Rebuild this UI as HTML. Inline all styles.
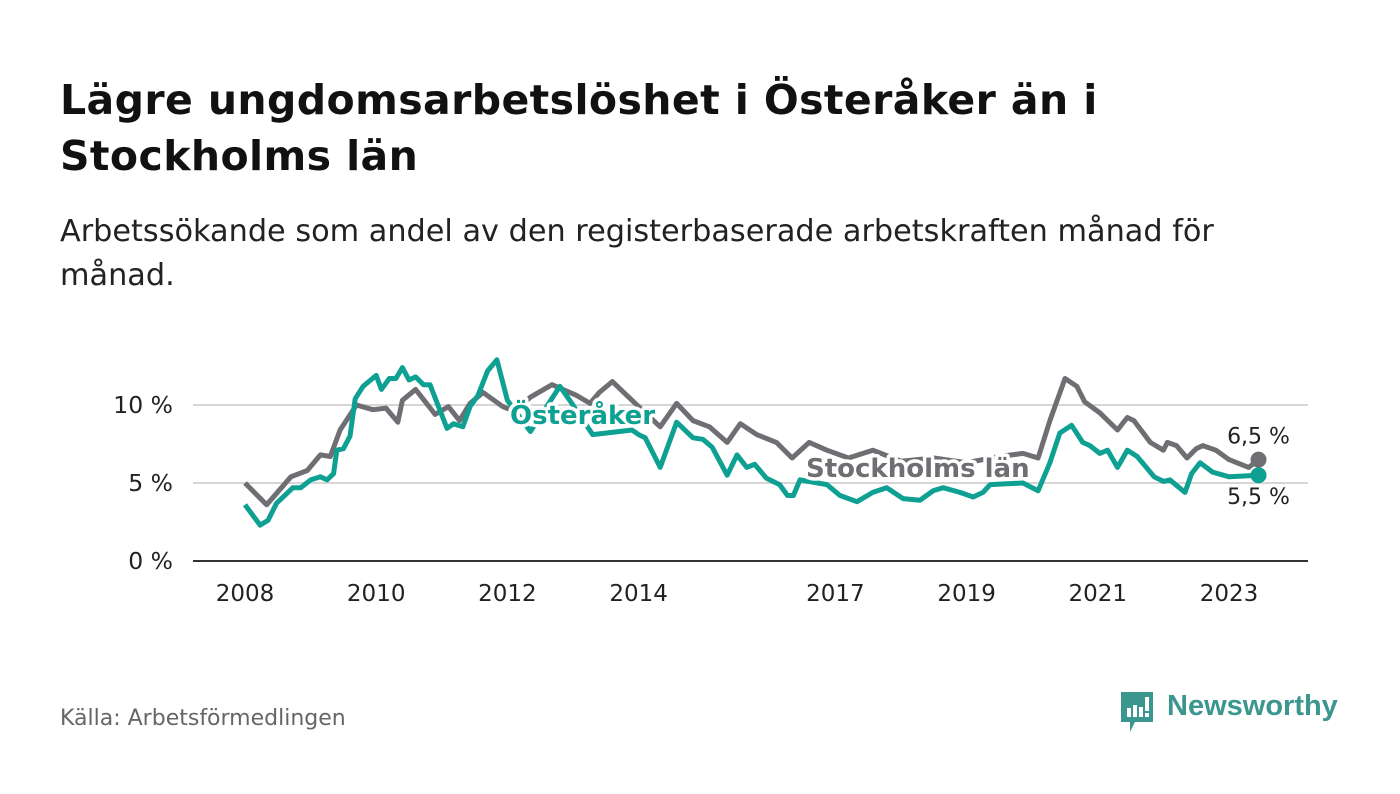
<!DOCTYPE html>
<html><head><meta charset="utf-8"><style>
body{margin:0;background:#fff;width:1400px;height:794px;overflow:hidden;font-family:"DejaVu Sans","Liberation Sans",sans-serif;}
.title{position:absolute;left:60px;top:72px;font-size:41px;font-weight:bold;color:#111;line-height:56px;white-space:nowrap;letter-spacing:0.4px;}
.sub{position:absolute;left:60px;top:210px;font-size:30.3px;color:#222;line-height:44px;white-space:nowrap;}
.src{position:absolute;left:60px;top:706px;font-size:22px;color:#666;}
</style></head><body>
<div class="title">Lägre ungdomsarbetslöshet i Österåker än i<br>Stockholms län</div>
<div class="sub">Arbetssökande som andel av den registerbaserade arbetskraften månad för<br>månad.</div>
<svg id="chart" width="1400" height="794" style="position:absolute;left:0;top:0;font-family:'DejaVu Sans','Liberation Sans',sans-serif"></svg>
<div class="src">Källa: Arbetsförmedlingen</div>
<div style="position:absolute;left:1119px;top:692px;">
<svg width="36" height="44"><path d="M2 0h32v30H16l-5 10v-10H2z" fill="#3a968e"/><rect x="8" y="16" width="4" height="9" fill="#fff"/><rect x="14" y="13" width="4" height="12" fill="#fff"/><rect x="20" y="15" width="4" height="10" fill="#fff"/><rect x="26" y="5" width="4" height="14" fill="#fff"/><rect x="26" y="21" width="4" height="4" fill="#fff"/></svg>
<span style="position:absolute;left:48px;top:-2px;font-family:'Liberation Sans',sans-serif;font-size:29px;font-weight:bold;color:#3a968e;">Newsworthy</span></div>
<script>
const yTicks=[0,5,10];
const yTickLabels=["0 %","5 %","10 %"];
const xTicks=[2008,2010,2012,2014,2017,2019,2021,2023];
const stoT=[2008.0,2008.33,2008.7,2008.95,2009.15,2009.3,2009.45,2009.7,2009.95,2010.15,2010.33,2010.4,2010.6,2010.9,2011.1,2011.27,2011.43,2011.63,2011.93,2012.1,2012.35,2012.68,2013.06,2013.26,2013.4,2013.6,2013.9,2014.1,2014.33,2014.58,2014.83,2015.08,2015.35,2015.55,2015.8,2016.1,2016.34,2016.6,2016.87,2017.2,2017.57,2018.0,2018.5,2019.0,2019.5,2019.86,2020.09,2020.27,2020.5,2020.68,2020.8,2021.03,2021.3,2021.45,2021.55,2021.8,2022.0,2022.06,2022.2,2022.36,2022.5,2022.6,2022.8,2023.0,2023.3,2023.45];
const stoV=[5.0,3.6,5.4,5.8,6.8,6.7,8.4,10.0,9.7,9.8,8.9,10.3,11.0,9.4,9.9,9.0,10.1,10.8,9.9,9.6,10.5,11.3,10.6,10.1,10.8,11.5,10.3,9.5,8.6,10.1,9.0,8.6,7.6,8.8,8.1,7.6,6.6,7.6,7.1,6.6,7.1,6.4,6.6,6.3,6.7,6.9,6.6,9.0,11.7,11.2,10.2,9.5,8.4,9.2,9.0,7.6,7.1,7.6,7.4,6.6,7.2,7.4,7.1,6.5,6.0,6.5];
const ostT=[2008.0,2008.23,2008.35,2008.48,2008.73,2008.85,2009.0,2009.15,2009.25,2009.35,2009.4,2009.5,2009.6,2009.68,2009.8,2010.0,2010.08,2010.2,2010.3,2010.4,2010.5,2010.6,2010.72,2010.82,2011.08,2011.18,2011.32,2011.43,2011.55,2011.7,2011.84,2012.0,2012.35,2012.8,2012.95,2013.3,2013.9,2014.0,2014.1,2014.33,2014.58,2014.83,2014.98,2015.12,2015.35,2015.5,2015.65,2015.77,2015.95,2016.15,2016.27,2016.36,2016.46,2016.87,2017.07,2017.33,2017.57,2017.78,2018.03,2018.29,2018.49,2018.64,2018.9,2019.1,2019.25,2019.36,2019.86,2020.09,2020.27,2020.42,2020.6,2020.77,2020.88,2021.03,2021.15,2021.3,2021.45,2021.6,2021.86,2022.0,2022.1,2022.33,2022.43,2022.56,2022.75,2023.0,2023.45];
const ostV=[3.6,2.3,2.6,3.7,4.7,4.7,5.2,5.4,5.2,5.6,7.1,7.2,8.0,10.4,11.2,11.9,11.0,11.7,11.7,12.4,11.6,11.8,11.3,11.3,8.5,8.8,8.6,9.9,10.6,12.2,12.9,10.3,8.3,11.2,10.3,8.1,8.4,8.1,7.9,6.0,8.9,7.9,7.8,7.3,5.5,6.8,6.0,6.2,5.3,4.9,4.2,4.2,5.2,4.9,4.2,3.8,4.4,4.7,4.0,3.9,4.5,4.7,4.4,4.1,4.4,4.9,5.0,4.5,6.3,8.2,8.7,7.6,7.4,6.9,7.1,6.0,7.1,6.7,5.4,5.1,5.2,4.4,5.6,6.3,5.7,5.4,5.5];
const NS="http://www.w3.org/2000/svg";
const svg=document.getElementById('chart');
const X=t=>245+(t-2008)*65.6;
const Y=v=>561-v*15.6;
function el(tag,attrs,parent){const e=document.createElementNS(NS,tag);for(const k in attrs)e.setAttribute(k,attrs[k]);(parent||svg).appendChild(e);return e;}
yTicks.forEach((v,i)=>{
  if(v>0){const g=el('line',{x1:193,x2:1308,y1:Y(v),y2:Y(v),stroke:'#d6d6d6','stroke-width':2});
  
  }
  const t=el('text',{x:173,y:Y(v)+8,'text-anchor':'end','font-size':23.5,fill:'#222'});t.textContent=yTickLabels[i];
  
  
});
xTicks.forEach(yr=>{
  const t=el('text',{x:X(yr),y:601,'text-anchor':'middle','font-size':23,fill:'#222'});t.textContent=yr;
  
  
});
function line(T,V,color,name){
  const p=el('path',{d:T.map((t,i)=>(i?'L':'M')+X(t).toFixed(1)+' '+Y(V[i]).toFixed(1)).join(''),fill:'none',stroke:color,'stroke-width':5,'stroke-linejoin':'round'});
  
  
}
line(stoT,stoV,'#6f6e73','line-stockholms-lan');
line(ostT,ostV,'#0ea193','line-osteraker');
const base=el('line',{x1:193,x2:1308,y1:Y(0),y2:Y(0),stroke:'#333','stroke-width':2});


function lab(x,y,txt,color,name){
  const t=el('text',{x:x,y:y,'font-size':26,'font-weight':'bold',fill:color,stroke:'#fff','stroke-width':7,'paint-order':'stroke','stroke-linejoin':'round'});t.textContent=txt;
  
  
}
lab(510,424,'Österåker','#0ea193','label-osteraker');
lab(806,477,'Stockholms län','#6f6e73','label-stockholms-lan');
const ls=stoT.length-1, lo=ostT.length-1;
const d1=el('circle',{cx:X(stoT[ls]),cy:Y(stoV[ls]),r:8,fill:'#6f6e73'});


const d2=el('circle',{cx:X(ostT[lo]),cy:Y(ostV[lo]),r:8,fill:'#0ea193'});


function vl(x,y,txt,name){const t=el('text',{x:x,y:y,'font-size':22,fill:'#222','text-anchor':'middle',stroke:'#fff','stroke-width':5,'paint-order':'stroke'});t.textContent=txt;
  
  }
vl(X(stoT[ls]),Y(stoV[ls])-16,String(stoV[ls]).replace('.',',')+' %','end-value-stockholms');
vl(X(ostT[lo]),Y(ostV[lo])+29,String(ostV[lo]).replace('.',',')+' %','end-value-osteraker');
</script>
</body></html>
